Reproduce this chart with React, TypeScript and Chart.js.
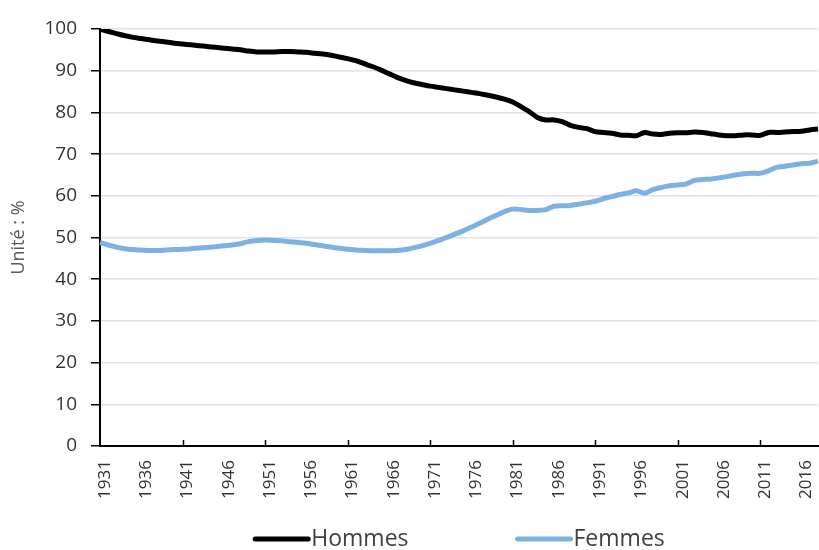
import React, { useEffect, useRef } from "react";
import { Chart, registerables } from "chart.js";

Chart.register(...registerables);

const years: number[] = [];
for (let y = 1931; y <= 2018; y++) years.push(y);
const labels = years.map(String);

const hommes = [
  100, 99.4, 98.9, 98.4, 98.0, 97.7, 97.4, 97.1, 96.9, 96.6,
  96.4, 96.2, 96.0, 95.8, 95.6, 95.4, 95.2, 95.0, 94.7, 94.5,
  94.5, 94.5, 94.6, 94.6, 94.5, 94.4, 94.2, 94.0, 93.7, 93.3,
  92.9, 92.4, 91.7, 91.0, 90.2, 89.3, 88.4, 87.7, 87.1, 86.7,
  86.3, 86.0, 85.7, 85.4, 85.1, 84.8, 84.5, 84.1, 83.7, 83.2,
  82.5, 81.4, 80.2, 78.8, 78.2, 78.2, 77.8, 76.9, 76.4, 76.1,
  75.4, 75.2, 75.0, 74.6, 74.5, 74.4, 75.2, 74.8, 74.7, 75.0,
  75.1, 75.1, 75.3, 75.2, 74.9, 74.6, 74.4, 74.4, 74.6, 74.6,
  74.5, 75.2, 75.2, 75.3, 75.4, 75.5, 75.8, 76.0,
];

const femmes = [
  48.8, 48.2, 47.7, 47.3, 47.1, 47.0, 46.9, 46.9, 47.0, 47.1,
  47.2, 47.3, 47.5, 47.6, 47.8, 48.0, 48.2, 48.5, 49.0, 49.3,
  49.4, 49.3, 49.2, 49.0, 48.8, 48.6, 48.3, 48.0, 47.7, 47.4,
  47.2, 47.0, 46.9, 46.8, 46.8, 46.8, 46.9, 47.1, 47.5, 48.0,
  48.6, 49.3, 50.0, 50.8, 51.6, 52.5, 53.4, 54.4, 55.3, 56.2,
  56.8, 56.7, 56.5, 56.5, 56.7, 57.5, 57.6, 57.7, 58.0, 58.3,
  58.7, 59.3, 59.8, 60.3, 60.7, 61.2, 60.6, 61.5, 62.0, 62.4,
  62.6, 62.8, 63.7, 63.9, 64.0, 64.3, 64.6, 65.0, 65.3, 65.4,
  65.4, 66.0, 66.8, 67.1, 67.4, 67.7, 67.8, 68.3,
];

const seriesNames = ["Hommes", "Femmes"];
const seriesColors = ["#000000", "#7db1e2"];
const yTitle = "Unité : %";

const FONT = "'Open Sans', 'DejaVu Sans', sans-serif";

const innerTicksPlugin = {
  id: "innerTicks",
  afterDatasetsDraw(chart: any) {
    const xs = chart.scales.x;
    const ctx = chart.ctx;
    const bottom = chart.chartArea.bottom;
    ctx.save();
    ctx.strokeStyle = "#000";
    ctx.lineWidth = 1.5;
    years.forEach((yr, i) => {
      if ((yr - 1931) % 10 === 0 && yr !== 1931) {
        const px = Math.round(xs.getPixelForValue(i)) + 0.5;
        ctx.beginPath();
        ctx.moveTo(px, bottom);
        ctx.lineTo(px, bottom - 6);
        ctx.stroke();
      }
    });
    ctx.restore();
  },
};

const customLegendPlugin = {
  id: "customLegend",
  afterDraw(chart: any) {
    const ctx = chart.ctx;
    const ds = chart.data.datasets;
    const lineLen = 55;
    const gap = 3;
    const spacing = 107;
    ctx.save();
    ctx.font = `23px ${FONT}`;
    ctx.textBaseline = "middle";
    const widths = ds.map((d: any) => ctx.measureText(d.label).width);
    let total = 0;
    widths.forEach((w: number, i: number) => {
      total += lineLen + gap + w + (i > 0 ? spacing : 0);
    });
    const ca = chart.chartArea;
    let x = (ca.left + ca.right) / 2 - total / 2;
    const y = 539;
    ds.forEach((d: any, i: number) => {
      ctx.strokeStyle = d.borderColor;
      ctx.lineWidth = 5;
      ctx.lineCap = "round";
      ctx.beginPath();
      ctx.moveTo(x + 2, y);
      ctx.lineTo(x + lineLen, y);
      ctx.stroke();
      ctx.fillStyle = "#404040";
      ctx.fillText(d.label, x + lineLen + gap, y);
      x += lineLen + gap + widths[i] + spacing;
    });
    ctx.restore();
  },
};

export default function App() {
  const canvasRef = useRef<HTMLCanvasElement>(null);

  useEffect(() => {
    document.body.style.margin = "0";
    const canvas = canvasRef.current;
    if (!canvas) return;
    const chart = new Chart(canvas, {
      type: "line",
      data: {
        labels,
        datasets: [
          {
            label: seriesNames[0],
            data: hommes,
            borderColor: seriesColors[0],
            backgroundColor: seriesColors[0],
            borderWidth: 5,
            pointRadius: 0,
            tension: 0.3,
            fill: false,
          },
          {
            label: seriesNames[1],
            data: femmes,
            borderColor: seriesColors[1],
            backgroundColor: seriesColors[1],
            borderWidth: 5,
            pointRadius: 0,
            tension: 0.3,
            fill: false,
          },
        ],
      },
      options: {
        responsive: false,
        animation: false,
        devicePixelRatio: 1,
        layout: { padding: { top: 29, right: 1, bottom: 40, left: 0 } },
        plugins: {
          legend: { display: false },
          tooltip: { enabled: false },
        },
        scales: {
          x: {
            type: "category",
            offset: false,
            grid: { display: true, drawOnChartArea: false, drawTicks: false },
            border: { display: true, color: "#000", width: 2 },
            ticks: {
              autoSkip: false,
              maxRotation: 90,
              minRotation: 90,
              padding: 14,
              labelOffset: 5,
              color: "#333",
              font: { family: FONT, size: 17 },
              callback: (_v: any, i: number) =>
                (years[i] - 1931) % 5 === 0 ? labels[i] : "",
            },
            afterFit: (s: any) => {
              s.height = 64;
              s.paddingLeft = 0;
              s.paddingRight = 0;
            },
          },
          y: {
            min: 0,
            max: 100,
            ticks: {
              stepSize: 10,
              padding: 14,
              color: "#333",
              font: { family: FONT, size: 19 },
            },
            grid: {
              color: "#dbe2ea",
              lineWidth: 1.5,
              tickColor: "#000",
              tickLength: 9,
              drawTicks: true,
            },
            border: { display: true, color: "#000", width: 2 },
            title: {
              display: true,
              text: yTitle,
              color: "#595959",
              font: { family: FONT, size: 18 },
              padding: { top: 8, bottom: 0 },
            },
            afterFit: (s: any) => {
              s.width = 100;
              s.paddingTop = 0;
              s.paddingBottom = 0;
            },
          },
        },
      },
      plugins: [innerTicksPlugin, customLegendPlugin],
    });
    return () => chart.destroy();
  }, []);

  return (
    <div style={{ width: 819, height: 550, background: "#fff" }}>
      <canvas ref={canvasRef} width={819} height={550} style={{ display: "block" }} />
    </div>
  );
}
